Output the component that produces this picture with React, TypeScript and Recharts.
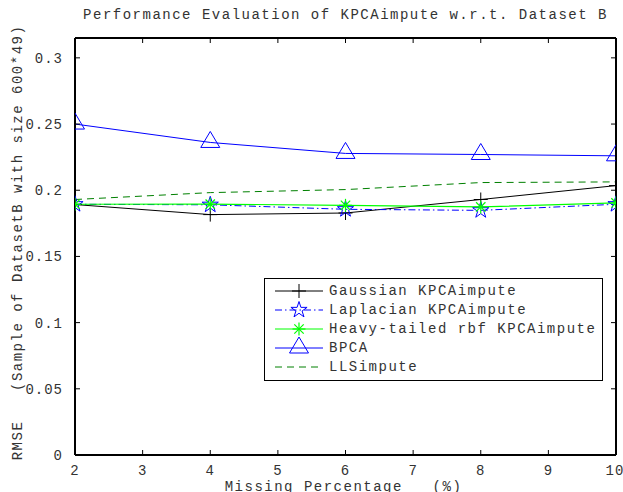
/*
 * RMSE vs missing percentage for five imputation methods (Dataset B).
 * MATLAB-style boxed axes with inward ticks, drawn with Recharts.
 */
import { Legend, Line, LineChart, XAxis, YAxis } from 'recharts';

const missingPct = [2, 4, 6, 8, 10];
const gaussian = [0.1892, 0.1816, 0.1828, 0.193, 0.2035];
const laplacian = [0.1894, 0.189, 0.1856, 0.1848, 0.1894];
const heavyTailed = [0.1894, 0.1895, 0.1886, 0.1874, 0.1904];
const bpca = [0.25, 0.2361, 0.2278, 0.227, 0.226];
const llsimpute = [0.193, 0.1982, 0.2005, 0.2058, 0.2063];

const xTicks = [2, 3, 4, 5, 6, 7, 8, 9, 10];
const yTicks = [0, 0.05, 0.1, 0.15, 0.2, 0.25, 0.3];

const data = missingPct.map((x, i) => ({
  x,
  gaussian: gaussian[i],
  laplacian: laplacian[i],
  heavy: heavyTailed[i],
  bpca: bpca[i],
  lls: llsimpute[i],
}));

const FONT = "'Liberation Mono', 'DejaVu Sans Mono', monospace";
const TEXT = '#333';
const BLUE = '#0000ff';
const BRIGHT_GREEN = '#00ff00';
const DARK_GREEN = '#008000';
const DASH_DOT = '7 3 1.5 3';
const DASHED = '7 5';

type P = { cx?: number; cy?: number };

function PlusMark({ cx = 0, cy = 0 }: P) {
  return (
    <g stroke="#000" strokeWidth={1} fill="none">
      <line x1={cx - 7} y1={cy} x2={cx + 7} y2={cy} />
      <line x1={cx} y1={cy - 7} x2={cx} y2={cy + 7} />
    </g>
  );
}

function StarMark({ cx = 0, cy = 0 }: P) {
  const R = 8.5;
  const r = R * 0.382;
  const pts: string[] = [];
  for (let k = 0; k < 10; k++) {
    const rad = k % 2 === 0 ? R : r;
    const a = -Math.PI / 2 + (k * Math.PI) / 5;
    pts.push(`${cx + rad * Math.cos(a)},${cy + rad * Math.sin(a)}`);
  }
  return <polygon points={pts.join(' ')} fill="none" stroke={BLUE} strokeWidth={1} />;
}

function AsteriskMark({ cx = 0, cy = 0 }: P) {
  const s = 6.5;
  const d = s * 0.72;
  return (
    <g stroke={BRIGHT_GREEN} strokeWidth={1.2} fill="none">
      <line x1={cx - s} y1={cy} x2={cx + s} y2={cy} />
      <line x1={cx} y1={cy - s} x2={cx} y2={cy + s} />
      <line x1={cx - d} y1={cy - d} x2={cx + d} y2={cy + d} />
      <line x1={cx - d} y1={cy + d} x2={cx + d} y2={cy - d} />
    </g>
  );
}

function TriangleMark({ cx = 0, cy = 0 }: P) {
  return (
    <polygon
      points={`${cx},${cy - 11} ${cx - 9.5},${cy + 5} ${cx + 9.5},${cy + 5}`}
      fill="none"
      stroke={BLUE}
      strokeWidth={1}
    />
  );
}

const legendItems = [
  { name: 'Gaussian KPCAimpute', color: '#000', dash: undefined, Mark: PlusMark },
  { name: 'Laplacian KPCAimpute', color: BLUE, dash: DASH_DOT, Mark: StarMark },
  { name: 'Heavy-tailed rbf KPCAimpute', color: BRIGHT_GREEN, dash: undefined, Mark: AsteriskMark },
  { name: 'BPCA', color: BLUE, dash: undefined, Mark: TriangleMark },
  { name: 'LLSimpute', color: DARK_GREEN, dash: DASHED, Mark: null },
];

function LegendBox() {
  const rowY = [13, 32, 51, 70, 89];
  return (
    <svg width={340} height={104} style={{ display: 'block' }}>
      <rect x={0.5} y={0.5} width={338} height={102} fill="#fff" stroke="#000" strokeWidth={1} />
      {legendItems.map((it, i) => {
        const y = rowY[i];
        const M = it.Mark;
        return (
          <g key={it.name}>
            <line x1={11} y1={y} x2={59} y2={y} stroke={it.color} strokeWidth={1} strokeDasharray={it.dash} />
            {M ? <M cx={35} cy={y} /> : null}
            <text
              x={65}
              y={y}
              dominantBaseline="central"
              fontFamily={FONT}
              fontSize={14}
              letterSpacing={1.5}
              fill={TEXT}
              style={{ whiteSpace: 'pre' }}
            >
              {it.name}
            </text>
          </g>
        );
      })}
    </svg>
  );
}

const tickStyle = { fontFamily: FONT, fontSize: 14, fill: TEXT, letterSpacing: 1 };
const blank = () => '';

export default function App() {
  return (
    <div style={{ position: 'absolute', left: 0, top: 0, background: '#fff' }}>
      <LineChart width={623} height={492} data={data} margin={{ top: 38, right: 7, bottom: 0, left: 0 }}>
        <XAxis
          dataKey="x"
          type="number"
          domain={[2, 10]}
          ticks={xTicks}
          allowDataOverflow
          height={37}
          tickLine={false}
          tickMargin={4}
          axisLine={{ stroke: '#000', strokeWidth: 2 }}
          tick={tickStyle}
          label={{
            content: (props: any) => {
              const vb = props.viewBox || {};
              return (
                <text
                  x={vb.x + vb.width / 2 - 2}
                  y={vb.y + 36}
                  textAnchor="middle"
                  fontFamily={FONT}
                  fontSize={14}
                  letterSpacing={1.5}
                  fill={TEXT}
                  style={{ whiteSpace: 'pre' }}
                >
                  Missing Percentage   (%)
                </text>
              );
            },
          }}
        />
        <XAxis
          xAxisId="bottomTicks"
          dataKey="x"
          type="number"
          domain={[2, 10]}
          ticks={xTicks}
          allowDataOverflow
          mirror
          axisLine={false}
          tickSize={5}
          tickLine={{ stroke: '#000' }}
          tickFormatter={blank}
        />
        <XAxis
          xAxisId="top"
          orientation="top"
          dataKey="x"
          type="number"
          domain={[2, 10]}
          ticks={xTicks}
          allowDataOverflow
          mirror
          tickSize={5}
          tickLine={{ stroke: '#000' }}
          axisLine={{ stroke: '#000', strokeWidth: 2 }}
          tickFormatter={blank}
          label={{
            content: (props: any) => {
              const vb = props.viewBox || {};
              return (
                <text
                  x={vb.x + vb.width / 2}
                  y={19}
                  textAnchor="middle"
                  fontFamily={FONT}
                  fontSize={14}
                  letterSpacing={1.5}
                  fill={TEXT}
                >
                  Performance Evaluation of KPCAimpute w.r.t. Dataset B
                </text>
              );
            },
          }}
        />
        <YAxis
          type="number"
          domain={[0, 0.315]}
          ticks={yTicks}
          allowDataOverflow
          width={75}
          tickLine={false}
          tickMargin={6}
          axisLine={{ stroke: '#000', strokeWidth: 2 }}
          tick={tickStyle}
          label={{
            content: (props: any) => {
              const vb = props.viewBox || {};
              const cy = vb.y + vb.height / 2 - 4;
              return (
                <text
                  x={18}
                  y={cy}
                  transform={`rotate(-90, 18, ${cy})`}
                  textAnchor="middle"
                  dominantBaseline="central"
                  fontFamily={FONT}
                  fontSize={14}
                  letterSpacing={1.5}
                  fill={TEXT}
                  style={{ whiteSpace: 'pre' }}
                >
                  RMSE   (Sample of DatasetB with size 600*49)
                </text>
              );
            },
          }}
        />
        <YAxis
          yAxisId="leftTicks"
          type="number"
          domain={[0, 0.315]}
          ticks={yTicks}
          allowDataOverflow
          mirror
          axisLine={false}
          tickSize={5}
          tickLine={{ stroke: '#000' }}
          tickFormatter={blank}
        />
        <YAxis
          yAxisId="right"
          orientation="right"
          type="number"
          domain={[0, 0.315]}
          ticks={yTicks}
          allowDataOverflow
          mirror
          tickSize={5}
          tickLine={{ stroke: '#000' }}
          axisLine={{ stroke: '#000', strokeWidth: 2 }}
          tickFormatter={blank}
        />
        <Legend
          layout="horizontal"
          verticalAlign="middle"
          align="center"
          wrapperStyle={{ position: 'absolute', left: 264, top: 278, width: 340, height: 104, margin: 0 }}
          content={() => <LegendBox />}
        />
        <Line
          dataKey="gaussian"
          name="Gaussian KPCAimpute"
          type="linear"
          stroke="#000"
          strokeWidth={1}
          isAnimationActive={false}
          dot={(p: any) => <PlusMark key={`g${p.index}`} cx={p.cx} cy={p.cy} />}
          activeDot={false}
        />
        <Line
          dataKey="laplacian"
          name="Laplacian KPCAimpute"
          type="linear"
          stroke={BLUE}
          strokeWidth={1}
          strokeDasharray={DASH_DOT}
          isAnimationActive={false}
          dot={(p: any) => <StarMark key={`l${p.index}`} cx={p.cx} cy={p.cy} />}
          activeDot={false}
        />
        <Line
          dataKey="heavy"
          name="Heavy-tailed rbf KPCAimpute"
          type="linear"
          stroke={BRIGHT_GREEN}
          strokeWidth={1.2}
          isAnimationActive={false}
          dot={(p: any) => <AsteriskMark key={`h${p.index}`} cx={p.cx} cy={p.cy} />}
          activeDot={false}
        />
        <Line
          dataKey="bpca"
          name="BPCA"
          type="linear"
          stroke={BLUE}
          strokeWidth={1}
          isAnimationActive={false}
          dot={(p: any) => <TriangleMark key={`b${p.index}`} cx={p.cx} cy={p.cy} />}
          activeDot={false}
        />
        <Line
          dataKey="lls"
          name="LLSimpute"
          type="linear"
          stroke={DARK_GREEN}
          strokeWidth={1}
          strokeDasharray={DASHED}
          isAnimationActive={false}
          dot={false}
          activeDot={false}
        />
      </LineChart>
    </div>
  );
}
